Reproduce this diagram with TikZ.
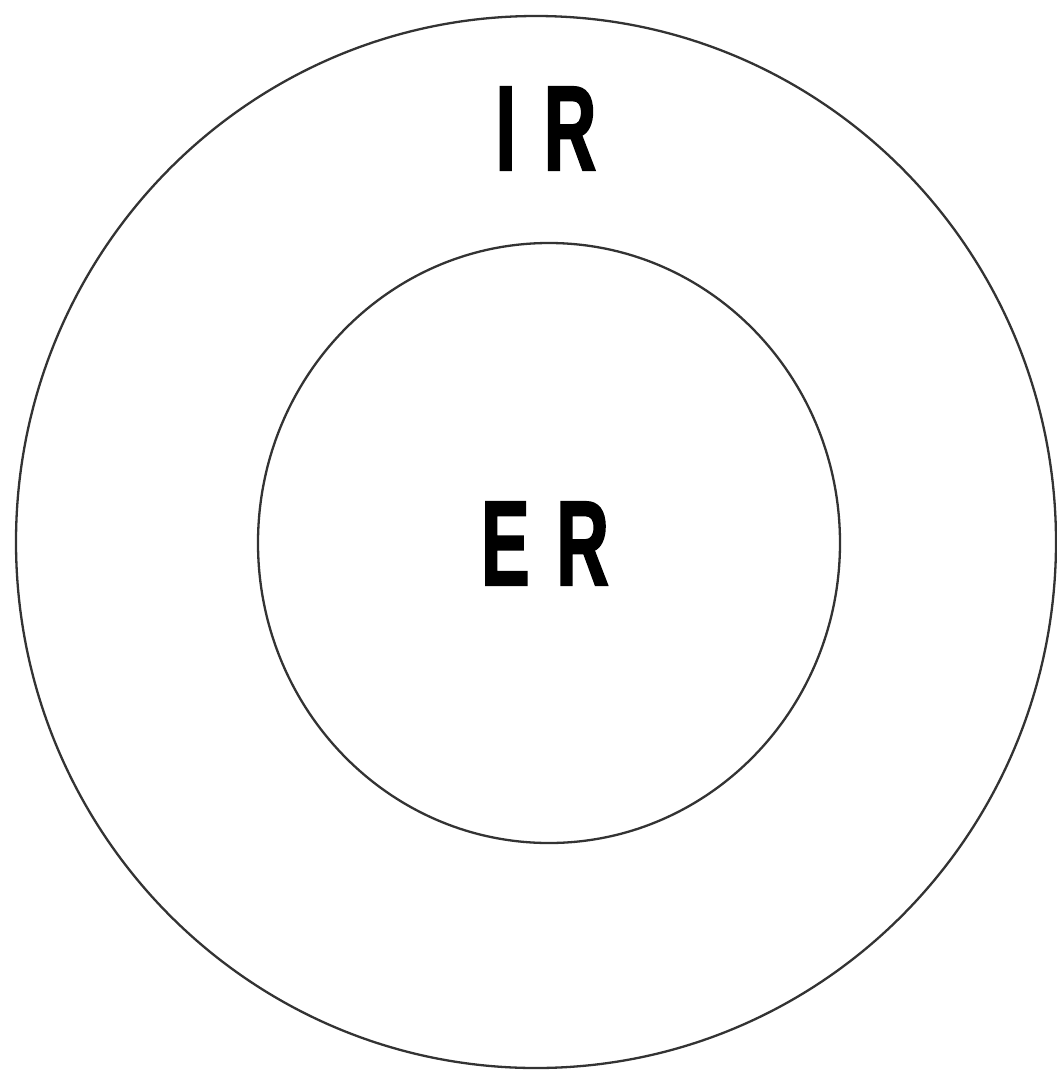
\documentclass[tikz,border=0pt]{standalone}
\usepackage{fontspec}
\newfontfamily\lblfont{Liberation Sans}[FakeStretch=0.6,BoldFeatures={FakeBold=1.5}]
\begin{document}
\begin{tikzpicture}[x=1pt,y=-1pt,
  ring/.style={draw=black!80,line width=2.3pt},
  lbl/.style={inner sep=0pt,font=\lblfont\bfseries\fontsize{121}{121}\selectfont,text=black}]
\useasboundingbox (0,0) rectangle (1057,1072);
\draw[ring] (536,542) ellipse [x radius=520, y radius=526];
\draw[ring] (549,543) ellipse [x radius=291, y radius=300];
\node[lbl] (ir) at (546,128.5) {I\hspace{28pt}R};
\node[lbl] (er) at (545,543.5) {E\hspace{27pt}R};
\end{tikzpicture}
\end{document}
